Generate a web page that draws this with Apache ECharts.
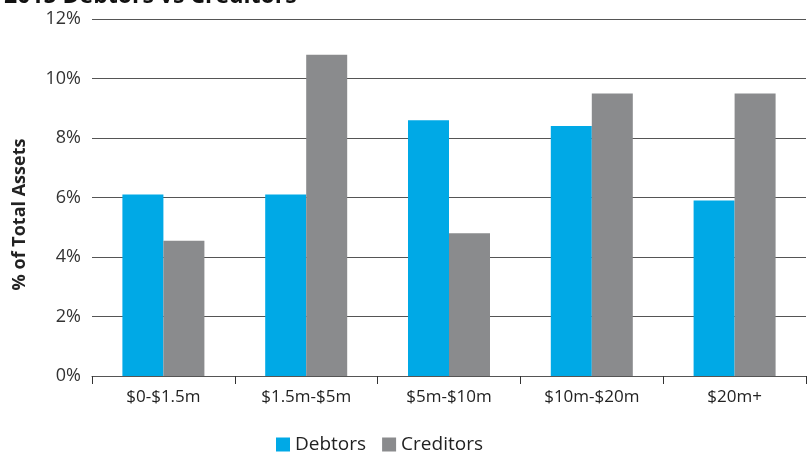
<!DOCTYPE html>
<html>
<head>
<meta charset="utf-8">
<script src="https://cdn.jsdelivr.net/npm/echarts@6/dist/echarts.min.js"></script>
<style>
  html, body { margin: 0; padding: 0; background: #fff; }
  #chart { width: 809px; height: 455px; }
</style>
</head>
<body>
<div id="chart"></div>
<script>
// Asset size bands
const categories = ['$0-$1.5m', '$1.5m-$5m', '$5m-$10m', '$10m-$20m', '$20m+'];
// Share of total assets (%)
const debtors = [6.1, 6.1, 8.6, 8.4, 5.9];
const creditors = [4.55, 10.8, 4.8, 9.5, 9.5];
const yTicks = [0, 2, 4, 6, 8, 10, 12];

const font = 'Open Sans';
const chart = echarts.init(document.getElementById('chart'));
chart.setOption({
  animation: false,
  title: {
    text: '2015 Debtors vs Creditors',
    left: -1, top: -20,
    textStyle: { fontFamily: font, fontSize: 23, fontWeight: 'bold', color: '#111' }
  },
  legend: {
    bottom: -4, left: 271,
    itemWidth: 14, itemHeight: 14, itemGap: 16,
    icon: 'rect',
    textStyle: { fontFamily: font, fontSize: 19, color: '#222' },
    data: ['Debtors', 'Creditors']
  },
  grid: { left: 92, right: 3, top: 19, bottom: 79 },
  xAxis: {
    type: 'category',
    data: categories,
    axisLine: { lineStyle: { color: '#555', width: 1 } },
    axisTick: { show: true, length: 8, lineStyle: { color: '#333' } },
    axisLabel: {
      fontFamily: font, fontSize: 17, color: '#222', margin: 13
    }
  },
  yAxis: {
    type: 'value',
    min: yTicks[0], max: yTicks[yTicks.length - 1], interval: 2,
    name: '% of Total Assets',
    nameLocation: 'middle',
    nameGap: 63,
    nameTextStyle: {
      fontFamily: font, fontSize: 18, fontWeight: 'bold', color: '#222',
      padding: [0, 34, 0, 0]
    },
    axisLine: { show: false },
    axisTick: { show: false },
    axisLabel: {
      fontFamily: font, fontSize: 18, color: '#333', margin: 11,
      formatter: v => v + '%'
    },
    splitLine: { lineStyle: { color: '#555', width: 1 } }
  },
  series: [
    {
      name: 'Debtors', type: 'bar', data: debtors,
      itemStyle: { color: '#00A9E6' },
      barWidth: 41, barGap: '0%'
    },
    {
      name: 'Creditors', type: 'bar', data: creditors,
      itemStyle: { color: '#8A8B8D' },
      barWidth: 41, barGap: '0%'
    }
  ]
});
</script>
</body>
</html>
